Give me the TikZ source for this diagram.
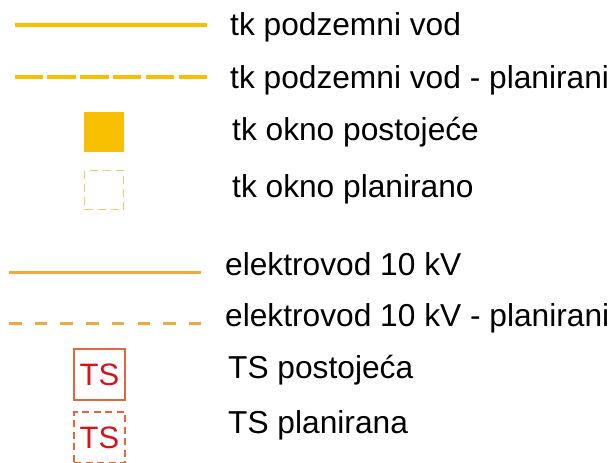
\documentclass[tikz,border=0pt]{standalone}
\usepackage{fontspec}
\setmainfont{Liberation Sans}
\definecolor{tkgold}{HTML}{F7BF00}
\definecolor{tklight}{HTML}{EDCB6A}
\definecolor{elorange}{HTML}{EEA93F}
\definecolor{tsframe}{HTML}{E2673D}
\definecolor{tsred}{HTML}{D7141A}
\tikzset{
  legendtext/.style={anchor=base west, inner sep=0pt, font=\fontsize{31.7}{36}\selectfont},
  tkline/.style={draw=tkgold, line width=3.5pt},
  elline/.style={draw=elorange, line width=3pt},
  tsbox/.style={draw=tsframe, line width=2.4pt, minimum size=51pt, inner sep=0pt,
    text=tsred, font=\fontsize{31}{33}\selectfont}
}
\begin{document}
\begin{tikzpicture}[x=1pt,y=-1pt]
\useasboundingbox (0,0) rectangle (611,463);
% tk vodovi
\draw[tkline] (14.5,25)--(207,25);
\draw[tkline, dash pattern=on 28.5pt off 4.3pt] (14.5,77)--(207,77);
\draw[fill=tkgold, draw=none] (84,112) rectangle (124,152);
\draw[draw=tklight, line width=1.7pt, dash pattern=on 8pt off 5pt] (84.5,170.5) rectangle (123.5,209.5);
\node[legendtext] (tkvod) at (230,35) {tk podzemni vod};
\node[legendtext] (tkvodplan) at (230,88) {tk podzemni vod - planirani};
\node[legendtext] (tkokno) at (232,140) {tk okno postoje\'ce};
\node[legendtext] (tkoknoplan) at (232,197) {tk okno planirano};
% elektrovodovi
\draw[elline] (9,272)--(201,272);
\draw[elline, dash pattern=on 12.5pt off 13.2pt] (9,323)--(201,323);
\node[tsbox] (ts) at (99.5,374.5) {TS};
\node[tsbox, dash pattern=on 7pt off 4.5pt] (tsplan) at (99.5,437.5) {TS};
\node[legendtext] (elvod) at (225,275) {elektrovod 10 kV};
\node[legendtext] (elvodplan) at (225,326) {elektrovod 10 kV - planirani};
\node[legendtext] (tspost) at (228,378) {TS postoje\'ca};
\node[legendtext] (tsplanlbl) at (228,433) {TS planirana};
\end{tikzpicture}
\end{document}
